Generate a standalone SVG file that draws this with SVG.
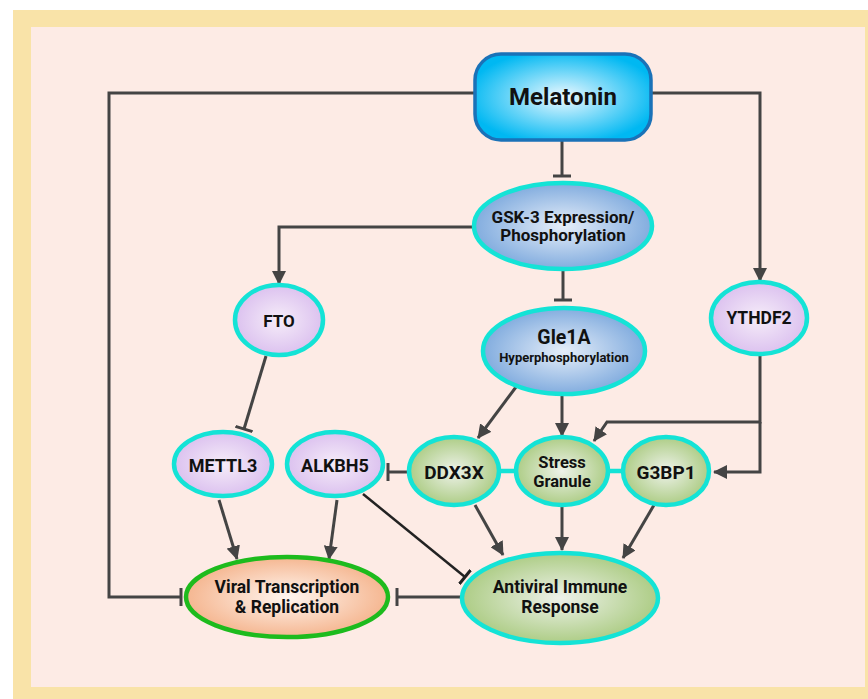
<svg xmlns="http://www.w3.org/2000/svg" width="868" height="699" viewBox="0 0 868 699">
<defs>
<radialGradient id="gBlue" cx="50%" cy="50%" r="55%"><stop offset="0" stop-color="#eef9ff"/><stop offset="1" stop-color="#00b8f2"/></radialGradient>
<radialGradient id="gSteel" cx="50%" cy="50%" r="55%"><stop offset="0" stop-color="#e6eef9"/><stop offset="1" stop-color="#78a6dc"/></radialGradient>
<radialGradient id="gPurple" cx="50%" cy="50%" r="55%"><stop offset="0" stop-color="#f6edf9"/><stop offset="1" stop-color="#d9bdee"/></radialGradient>
<radialGradient id="gGreen" cx="50%" cy="50%" r="55%"><stop offset="0" stop-color="#eef2ea"/><stop offset="1" stop-color="#a7c97c"/></radialGradient>
<radialGradient id="gOrange" cx="50%" cy="50%" r="55%"><stop offset="0" stop-color="#fff6f0"/><stop offset="1" stop-color="#f4b087"/></radialGradient>
<marker id="arr" markerUnits="userSpaceOnUse" viewBox="0 0 14 14" refX="13" refY="7" markerWidth="14" markerHeight="14" orient="auto"><path d="M0,0 L14,7 L0,14 z" fill="#444"/></marker>
<marker id="bar" markerUnits="userSpaceOnUse" viewBox="0 0 4 18" refX="2" refY="9" markerWidth="4" markerHeight="18" orient="auto"><path d="M2,0 V18" stroke="#444" stroke-width="3"/></marker>
<marker id="barK" markerUnits="userSpaceOnUse" viewBox="0 0 4 18" refX="2" refY="9" markerWidth="4" markerHeight="18" orient="auto"><path d="M2,0 V18" stroke="#222" stroke-width="3"/></marker>
</defs>
<style>
.e{fill:none;stroke:#444;stroke-width:3}
.a{marker-end:url(#arr)}
.i{marker-end:url(#bar)}
.c{stroke:#14e3d6;stroke-width:4.5}
.t{font-family:Roboto,"Liberation Sans",sans-serif;font-weight:700;fill:#111;text-anchor:middle}
</style>
<rect x="0" y="0" width="868" height="699" fill="#ffffff"/>
<rect x="13" y="10" width="855" height="689" fill="#f9e3a8"/>
<rect x="31" y="27" width="834" height="660" fill="#fdebe5"/>

<g id="connectors">
<path class="e i" d="M562,140 V176"/>
<path class="e i" d="M563,270 V300"/>
<path class="e a" d="M651,93 H760 V281"/>
<path class="e i" d="M475,93 H109 V597 H181"/>
<path class="e a" d="M473,227 H279 V284"/>
<path class="e i" d="M266,356 L244,429"/>
<path class="e a" d="M516,387 L478,438"/>
<path class="e a" d="M562,395 V436"/>
<path class="e a" d="M760,354 V422 H607 L594,441"/>
<path class="e a" d="M760,422 V472 H714"/>
<path class="e i" d="M409,472 H388"/>
<path class="c" d="M498,471 H516 M608,471 H623"/>
<path class="e a" d="M219,500 L237,559"/>
<path class="e a" d="M337,500 L329,559"/>
<path d="M363,494 L465,577" fill="none" stroke="#222" stroke-width="2.5" marker-end="url(#barK)"/>
<path class="e a" d="M475,505 L503,555"/>
<path class="e a" d="M562,506 V550"/>
<path class="e a" d="M654,505 L623,558"/>
<path class="e i" d="M462,597 H397"/>
</g>

<g id="melatonin">
<rect x="475" y="54" width="176" height="86" rx="26" fill="url(#gBlue)" stroke="#1a72b8" stroke-width="3.5"/>
<text class="t" x="563" y="105" font-size="24">Melatonin</text>
</g>
<g id="gsk3">
<ellipse cx="563" cy="226" rx="89" ry="43" fill="url(#gSteel)" class="c"/>
<text class="t" x="563" y="223" font-size="17">GSK-3 Expression/</text>
<text class="t" x="563" y="241" font-size="17">Phosphorylation</text>
</g>
<g id="gle1a">
<ellipse cx="564" cy="351" rx="81" ry="43" fill="url(#gSteel)" class="c"/>
<text class="t" x="564" y="344" font-size="19.5">Gle1A</text>
<text class="t" x="564" y="362" font-size="13">Hyperphosphorylation</text>
</g>
<g id="fto">
<ellipse cx="279" cy="320" rx="44" ry="35" fill="url(#gPurple)" class="c"/>
<text class="t" x="279" y="327" font-size="17">FTO</text>
</g>
<g id="ythdf2">
<ellipse cx="759" cy="318" rx="48" ry="36" fill="url(#gPurple)" class="c"/>
<text class="t" x="759" y="324" font-size="17.5">YTHDF2</text>
</g>
<g id="mettl3">
<ellipse cx="223" cy="464" rx="49" ry="32" fill="url(#gPurple)" class="c"/>
<text class="t" x="223" y="472" font-size="18">METTL3</text>
</g>
<g id="alkbh5">
<ellipse cx="335" cy="464" rx="48" ry="32" fill="url(#gPurple)" class="c"/>
<text class="t" x="335" y="472" font-size="18">ALKBH5</text>
</g>
<g id="ddx3x">
<ellipse cx="454" cy="471" rx="45" ry="34" fill="url(#gGreen)" class="c"/>
<text class="t" x="454" y="479" font-size="19">DDX3X</text>
</g>
<g id="stress-granule">
<ellipse cx="562" cy="471" rx="46" ry="34" fill="url(#gGreen)" class="c"/>
<text class="t" x="562" y="468" font-size="16.5">Stress</text>
<text class="t" x="562" y="487" font-size="16.5">Granule</text>
</g>
<g id="g3bp1">
<ellipse cx="666" cy="471" rx="43" ry="34" fill="url(#gGreen)" class="c"/>
<text class="t" x="666" y="479" font-size="19">G3BP1</text>
</g>
<g id="viral">
<ellipse cx="287" cy="597" rx="101" ry="40" fill="url(#gOrange)" stroke="#1dbb1d" stroke-width="4.5"/>
<text class="t" x="287" y="593" font-size="17.5">Viral Transcription</text>
<text class="t" x="287" y="613" font-size="17.5">&amp; Replication</text>
</g>
<g id="antiviral">
<ellipse cx="560" cy="598" rx="98" ry="45" fill="url(#gGreen)" class="c"/>
<text class="t" x="560" y="593" font-size="17.5">Antiviral Immune</text>
<text class="t" x="560" y="613" font-size="17.5">Response</text>
</g>
</svg>
